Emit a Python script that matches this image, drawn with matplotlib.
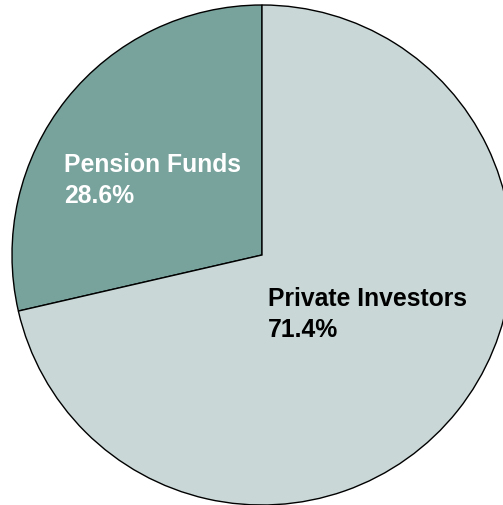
import matplotlib.pyplot as plt

plt.rcParams['font.family'] = ['Liberation Sans', 'DejaVu Sans']

holders = ['Pension Funds', 'Private Investors']
shares = [28.6, 71.4]
colors = ['#78a29c', '#c9d8d7']
text_colors = ['white', 'black']
# label anchors (left edge, first baseline) in pixel space, y measured from top
label_pos = [(64, 172), (268, 306)]
line_gap = 31

H = 506
fig = plt.figure(figsize=(5.03, 5.06), dpi=100)
ax = fig.add_axes([0, 0, 1, 1])

ax.pie(shares, colors=colors, startangle=90, counterclock=True,
       center=(262, H - 256), radius=250,
       wedgeprops=dict(edgecolor='black', linewidth=1.0))
ax.set_xlim(0, 503)
ax.set_ylim(0, H)
ax.set_aspect('equal')
ax.axis('off')

for name, val, (x, y), c in zip(holders, shares, label_pos, text_colors):
    ax.text(x, H - y, name, color=c, fontsize=17.8, fontweight='bold',
            ha='left', va='baseline')
    ax.text(x, H - y - line_gap, f'{val:.1f}%', color=c, fontsize=17.8,
            fontweight='bold', ha='left', va='baseline')

fig.savefig('out.png', dpi=100)
